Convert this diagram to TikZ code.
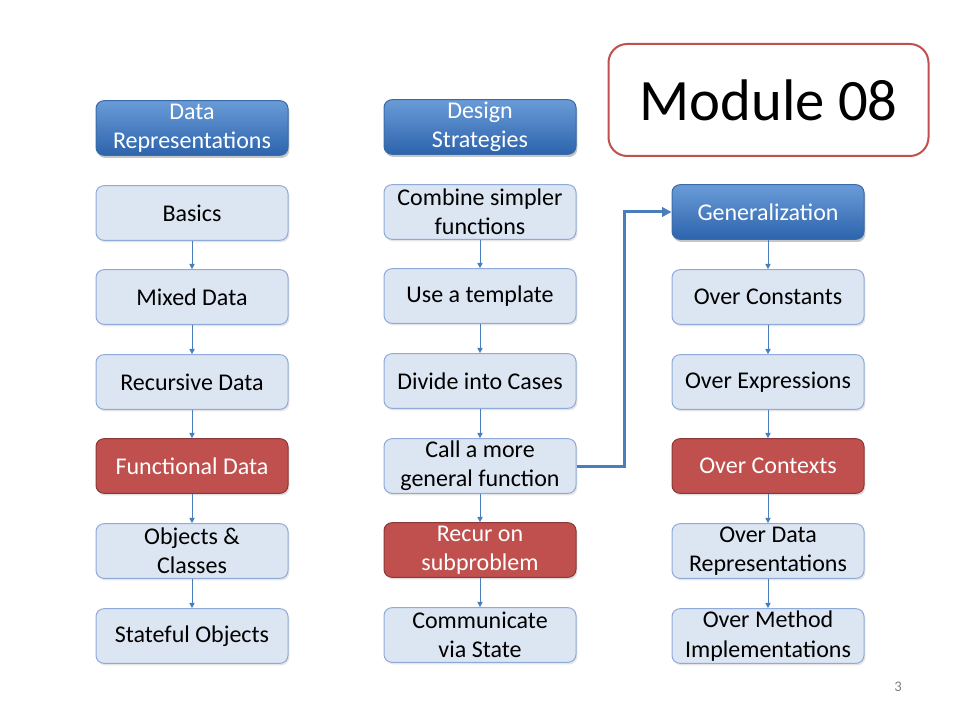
\documentclass[tikz,border=0pt]{standalone}
\usepackage{fontspec}
\setmainfont{Carlito}
\usepackage{tikz}
\usetikzlibrary{arrows.meta,positioning,shadows}

\definecolor{headTop}{HTML}{6A9BD8}
\definecolor{headBot}{HTML}{2C64AC}
\definecolor{headLine}{HTML}{3A6BA8}
\definecolor{lightFill}{HTML}{DCE6F2}
\definecolor{lightLine}{HTML}{8EAADB}
\definecolor{redFill}{HTML}{C0504D}
\definecolor{redLine}{HTML}{8C3836}
\definecolor{arrowBlue}{HTML}{4A7EBB}

\begin{document}
\begin{tikzpicture}[
    x=0.75pt, y=-0.75pt,
    box/.style={rounded corners=6pt, minimum width=144pt, minimum height=41pt,
        inner xsep=2pt, inner ysep=0pt, align=center,
        font=\fontsize{18}{22}\selectfont, line width=0.75pt},
    head/.style={box, draw=headLine, top color=headTop, bottom color=headBot, text=white,
        drop shadow={opacity=0.45, shadow xshift=1pt, shadow yshift=-2pt}},
    plain/.style={box, draw=lightLine, fill=lightFill,
        drop shadow={opacity=0.2, shadow xshift=1pt, shadow yshift=-1.5pt}},
    hot/.style={box, draw=redLine, fill=redFill, text=white,
        drop shadow={opacity=0.25, shadow xshift=1pt, shadow yshift=-1.5pt}},
    arrow/.style={-{Triangle[length=4pt,width=4pt]}, arrowBlue, line width=0.75pt},
    bigarrow/.style={-{Triangle[length=7pt,width=7pt]}, arrowBlue, line width=2.25pt}
]
\useasboundingbox (0,0) rectangle (960,720);

% Title
\node[draw=redFill, line width=1.5pt, fill=white, rounded corners=14pt,
      minimum width=240pt, minimum height=84pt,
      font=\fontsize{44}{50}\selectfont] (title) at (768.5,100) {Module 08};

% Column 1: data representations
\node[head]  (dataHead)  at (192,128) {Data\\Representations};
\node[plain] (basics)    at (192,213) {Basics};
\node[plain] (mixed)     at (192,297) {Mixed Data};
\node[plain] (recursive) at (192,382) {Recursive Data};
\node[hot]   (functional) at (192,466) {Functional Data};
\node[plain] (objects)   at (192,551) {Objects \&\\Classes};
\node[plain] (stateful)  at (192,636) {Stateful Objects};

% Column 2: design strategies
\node[head]  (designHead) at (480,127) {Design\\Strategies};
\node[plain] (combine)   at (480,212) {Combine simpler\\functions};
\node[plain] (template)  at (480,296) {Use a template};
\node[plain] (cases)     at (480,381) {Divide into Cases};
\node[plain] (call)      at (480,466) {Call a more\\general function};
\node[hot]   (recur)     at (480,550) {Recur on\\subproblem};
\node[plain] (communicate) at (480,635) {Communicate\\via State};

% Column 3: generalization
\node[head]  (general)   at (768,212) {Generalization};
\node[plain] (constants) at (768,297) {Over Constants};
\node[plain] (expressions) at (768,382) {Over Expressions};
\node[hot]   (contexts)  at (768,466) {Over Contexts};
\node[plain] (overdata)  at (768,551) {Over Data\\Representations};
\node[plain] (methods)   at (768,636) {Over Method\\Implementations};

% Edges
\draw[arrow] (basics) -- (mixed);
\draw[arrow] (mixed) -- (recursive);
\draw[arrow] (recursive) -- (functional);
\draw[arrow] (functional) -- (objects);
\draw[arrow] (objects) -- (stateful);

\draw[arrow] (combine) -- (template);
\draw[arrow] (template) -- (cases);
\draw[arrow] (cases) -- (call);
\draw[arrow] (call) -- (recur);
\draw[arrow] (recur) -- (communicate);

\draw[arrow] (general) -- (constants);
\draw[arrow] (constants) -- (expressions);
\draw[arrow] (expressions) -- (contexts);
\draw[arrow] (contexts) -- (overdata);
\draw[arrow] (overdata) -- (methods);

\draw[bigarrow] (call.east) -- ++(48,0) |- (general.west);

% Page number
\node[text=gray, font=\fontsize{11}{13}\selectfont] (pagenum) at (898,687) {3};
\end{tikzpicture}
\end{document}
